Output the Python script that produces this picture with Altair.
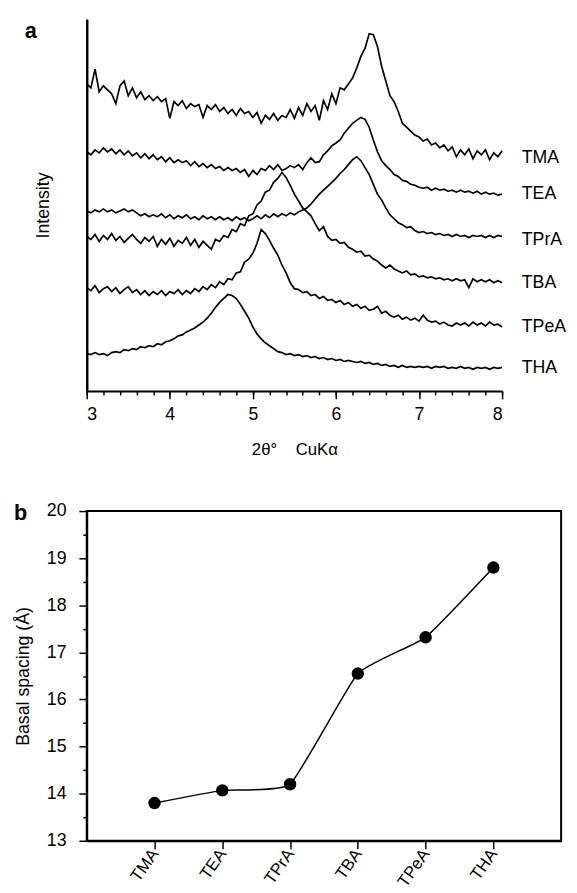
import altair as alt
import pandas as pd

# ---------------- data ----------------
samples = ["TMA", "TEA", "TPrA", "TBA", "TPeA", "THA"]

# 2-theta sampling positions 3.00 ... 8.00 (step 0.05)
two_theta = [round(3 + 0.05 * i, 2) for i in range(101)]

TMA = [322, 318, 337, 314, 320, 316, 312, 302, 320, 325,
       310, 318, 308, 314, 306, 310, 305, 309, 304, 307,
       287, 304, 300, 305, 297, 302, 299, 301, 288, 300,
       296, 301, 294, 298, 292, 296, 290, 297, 292, 294,
       288, 293, 282, 290, 286, 292, 285, 290, 288, 296,
       287, 298, 290, 302, 294, 300, 285, 305, 296, 312,
       302, 318, 316, 322, 328, 338, 350, 358, 373, 372,
       360, 340, 325, 310, 304, 294, 282, 278, 274, 270,
       268, 264, 266, 260, 262, 257, 260, 254, 258, 248,
       255, 250, 256, 246, 254, 250, 255, 245, 252, 248,
       254]
TEA = [253, 250, 255, 252, 257, 253, 256, 251, 255, 250,
       254, 249, 252, 247, 251, 246, 250, 245, 248, 243,
       247, 242, 245, 242, 244, 239, 243, 238, 241, 237,
       240, 236, 238, 234, 237, 234, 236, 232, 235, 228,
       234, 230, 236, 234, 239, 235, 240, 234, 236, 239,
       237, 240, 235, 242, 247, 242, 243, 250, 254, 259,
       262, 265, 272, 277, 282, 285, 288, 286, 278, 265,
       253, 244, 239, 235, 230, 228, 224, 223, 220, 219,
       217, 216, 217, 214, 216, 214, 215, 213, 214, 212,
       214, 212, 213, 211, 213, 210, 212, 210, 211, 209,
       210]
TPrA = [193, 191, 194, 192, 195, 192, 194, 191, 193, 195,
        192, 194, 191, 188, 190, 187, 189, 187, 190, 186,
        189, 185, 188, 186, 189, 185, 187, 184, 188, 185,
        187, 184, 187, 184, 186, 183, 187, 184, 186, 183,
        185, 188, 185, 189, 186, 190, 187, 190, 188, 191,
        189, 192, 194, 196, 200, 205, 210, 214, 218, 222,
        226, 231, 235, 240, 245, 248, 244, 237, 230, 220,
        210, 204, 196, 189, 185, 181, 179, 176, 177, 173,
        171, 172, 170, 171, 169, 170, 168, 169, 167, 169,
        167, 168, 166, 168, 167, 168, 166, 168, 166, 168,
        167]
TBA = [167, 164, 169, 162, 168, 164, 170, 163, 167, 161,
       165, 169, 164, 160, 166, 162, 167, 157, 164, 159,
       165, 157, 163, 160, 166, 158, 164, 156, 162, 158,
       154, 164, 162, 168, 166, 174, 172, 180, 178, 188,
       190, 199, 203, 212, 214, 222, 226, 232, 227, 219,
       210, 203, 196, 192, 188, 180, 173, 177, 167, 163,
       164, 160, 161, 156, 154, 151, 152, 147, 148, 144,
       142, 138, 135, 138, 134, 132, 130, 132, 128, 129,
       126, 127, 125, 126, 124, 125, 123, 124, 122, 124,
       122, 123, 115, 124, 121, 123, 121, 123, 120, 122,
       120]
TPeA = [115, 112, 117, 110, 114, 116, 111, 115, 109, 113,
        116, 110, 113, 108, 112, 107, 111, 108, 112, 107,
        111, 109, 113, 108, 112, 109, 114, 111, 116, 113,
        118, 115, 121, 118, 124, 123, 130, 131, 141, 144,
        150, 160, 174, 170, 163, 155, 148, 138, 130, 120,
        114, 113, 110, 111, 107, 108, 104, 106, 102, 103,
        100, 102, 98, 100, 96, 98, 94, 96, 92, 93,
        96, 89, 91, 87, 85, 87, 83, 85, 82, 84,
        81, 87, 82, 80, 81, 78, 80, 77, 76, 79,
        77, 79, 76, 80, 77, 79, 76, 80, 77, 78,
        75]
THA = [48, 47, 49, 47, 48, 46, 49, 50, 49, 52,
       51, 53, 52, 55, 54, 56, 55, 58, 57, 60,
       61, 63, 66, 67, 70, 72, 74, 77, 80, 84,
       89, 95, 100, 104, 108, 107, 104, 98, 91, 84,
       75, 68, 63, 59, 56, 53, 50, 49, 47, 48,
       46, 47, 45, 46, 44, 45, 43, 44, 42, 43,
       41, 42, 40, 41, 40, 39, 40, 38, 39, 37,
       38, 36, 37, 35, 36, 34, 36, 34, 35, 34,
       35, 34, 35, 33, 35, 34, 35, 33, 34, 33,
       35, 33, 34, 32, 34, 33, 34, 32, 34, 33,
       34]
curves = [TMA, TEA, TPrA, TBA, TPeA, THA]

# right-hand curve labels (intensity level of each label)
label_level = [247, 210, 163, 120, 75, 33]

# panel b: basal spacing (Angstrom)
basal_spacing = [13.80, 14.07, 14.20, 16.55, 17.32, 18.80]

x_major = [3, 4, 5, 6, 7, 8]
x_minor = [round(3 + 0.2 * i, 1) for i in range(26)]
y_major = [13, 14, 15, 16, 17, 18, 19, 20]
y_minor = [13.5, 14.5, 15.5, 16.5, 17.5, 18.5, 19.5]

# ---------------- tables ----------------
rows = []
for name, vals in zip(samples, curves):
    for t, v in zip(two_theta, vals):
        rows.append({"sample": name, "two_theta": t, "intensity": v})
xrd = pd.DataFrame(rows)
labels_df = pd.DataFrame({"sample": samples, "two_theta": [8] * 6, "intensity": label_level})
xminor_df = pd.DataFrame({"v": x_minor})
bdf = pd.DataFrame({"sample": samples, "spacing": basal_spacing})
yminor_df = pd.DataFrame({"v": y_minor})

FONT = "Liberation Sans"
NB = "\u00a0"

# ---------------- panel a ----------------
xs = alt.Scale(domain=[3, 8], nice=False, zero=False)
ys = alt.Scale(domain=[10, 388], nice=False, zero=False)

y_axis_a = alt.Axis(labels=False, ticks=False, title="Intensity",
                    titleFontSize=18, titleFontWeight="normal",
                    titlePadding=35, domainWidth=2.5)

lines = alt.Chart(xrd).mark_line(color="black", strokeWidth=1.7).encode(
    x=alt.X("two_theta:Q", scale=xs,
            axis=alt.Axis(values=x_major, format="d", tickSize=8, tickWidth=1.5,
                          labelFontSize=18, labelPadding=7, title="2θ°" + NB * 4 + "CuKα",
                          titleFontSize=17, titleFontWeight="normal", titlePadding=19,
                          domainWidth=2, orient="bottom")),
    y=alt.Y("intensity:Q", scale=ys, axis=y_axis_a),
    detail="sample:N",
)

xminor = alt.Chart(xminor_df).mark_point(opacity=0).encode(
    x=alt.X("v:Q", scale=xs,
            axis=alt.Axis(values=x_minor, labels=False, domain=False, tickSize=4,
                          tickWidth=1.5, title=None, orient="bottom")),
)

names = alt.Chart(labels_df).mark_text(align="left", baseline="middle", dx=20,
                                       fontSize=18, font=FONT, color="black").encode(
    x=alt.X("two_theta:Q", scale=xs, axis=None),
    y=alt.Y("intensity:Q", scale=ys, axis=y_axis_a),
    text="sample:N",
)

tag_a = alt.Chart(pd.DataFrame({"t": ["a"]})).mark_text(
    align="left", baseline="middle", fontSize=22, fontWeight="bold", font=FONT, color="black"
).encode(x=alt.value(-63), y=alt.value(12), text="t:N")
# invisible anchor so both panels share the same left extent
anchor_a = alt.Chart(pd.DataFrame({"t": ["b"]})).mark_text(
    align="left", baseline="middle", fontSize=22, fontWeight="bold", font=FONT, opacity=0
).encode(x=alt.value(-74), y=alt.value(12), text="t:N")

panel_a = alt.layer(lines, xminor, names, tag_a, anchor_a).resolve_axis(
    x="independent").properties(width=422, height=378)

# ---------------- panel b ----------------
xb = alt.X("sample:N", sort=samples, scale=alt.Scale(type="point", padding=1),
           axis=alt.Axis(title=None, labelAngle=-55, labelFontSize=17, tickSize=8,
                         tickWidth=1.5, labelPadding=2, domainWidth=2))
ybs = alt.Scale(domain=[13, 20], nice=False, zero=False)

bline = alt.Chart(bdf).mark_line(interpolate="cardinal", tension=0.6, color="black",
                                 strokeWidth=1.5).encode(
    x=xb,
    y=alt.Y("spacing:Q", scale=ybs,
            axis=alt.Axis(values=y_major, format="d", tickSize=8, tickWidth=1.5,
                          labelFontSize=18, labelPadding=13, title="Basal spacing (Å)",
                          titleFontSize=18, titleFontWeight="normal", titlePadding=14,
                          domainWidth=2)),
)
bpts = alt.Chart(bdf).mark_circle(size=160, color="black", opacity=1).encode(
    x=xb, y=alt.Y("spacing:Q", scale=ybs, axis=None)
)
yminor = alt.Chart(yminor_df).mark_point(opacity=0).encode(
    y=alt.Y("v:Q", scale=ybs,
            axis=alt.Axis(values=y_minor, labels=False, domain=False, tickSize=4,
                          tickWidth=1.5, title=None, orient="left")),
)
tag_b = alt.Chart(pd.DataFrame({"t": ["b"]})).mark_text(
    align="left", baseline="middle", fontSize=22, fontWeight="bold", font=FONT, color="black"
).encode(x=alt.value(-74), y=alt.value(2), text="t:N")

panel_b = alt.layer(bline, bpts, yminor, tag_b).resolve_axis(y="independent").properties(
    width=482, height=335, view=alt.ViewBackground(stroke="black", strokeWidth=2)
)

chart = alt.vconcat(panel_a, panel_b, spacing=44).properties(
    padding={"left": 5, "top": 4, "right": 2, "bottom": 0}
).configure_view(strokeWidth=0).configure_axis(
    grid=False, domainColor="black", tickColor="black", labelColor="black",
    titleColor="black", labelFont=FONT, titleFont=FONT
)

chart.save("out.html", embed_options={"renderer": "svg", "actions": False})
